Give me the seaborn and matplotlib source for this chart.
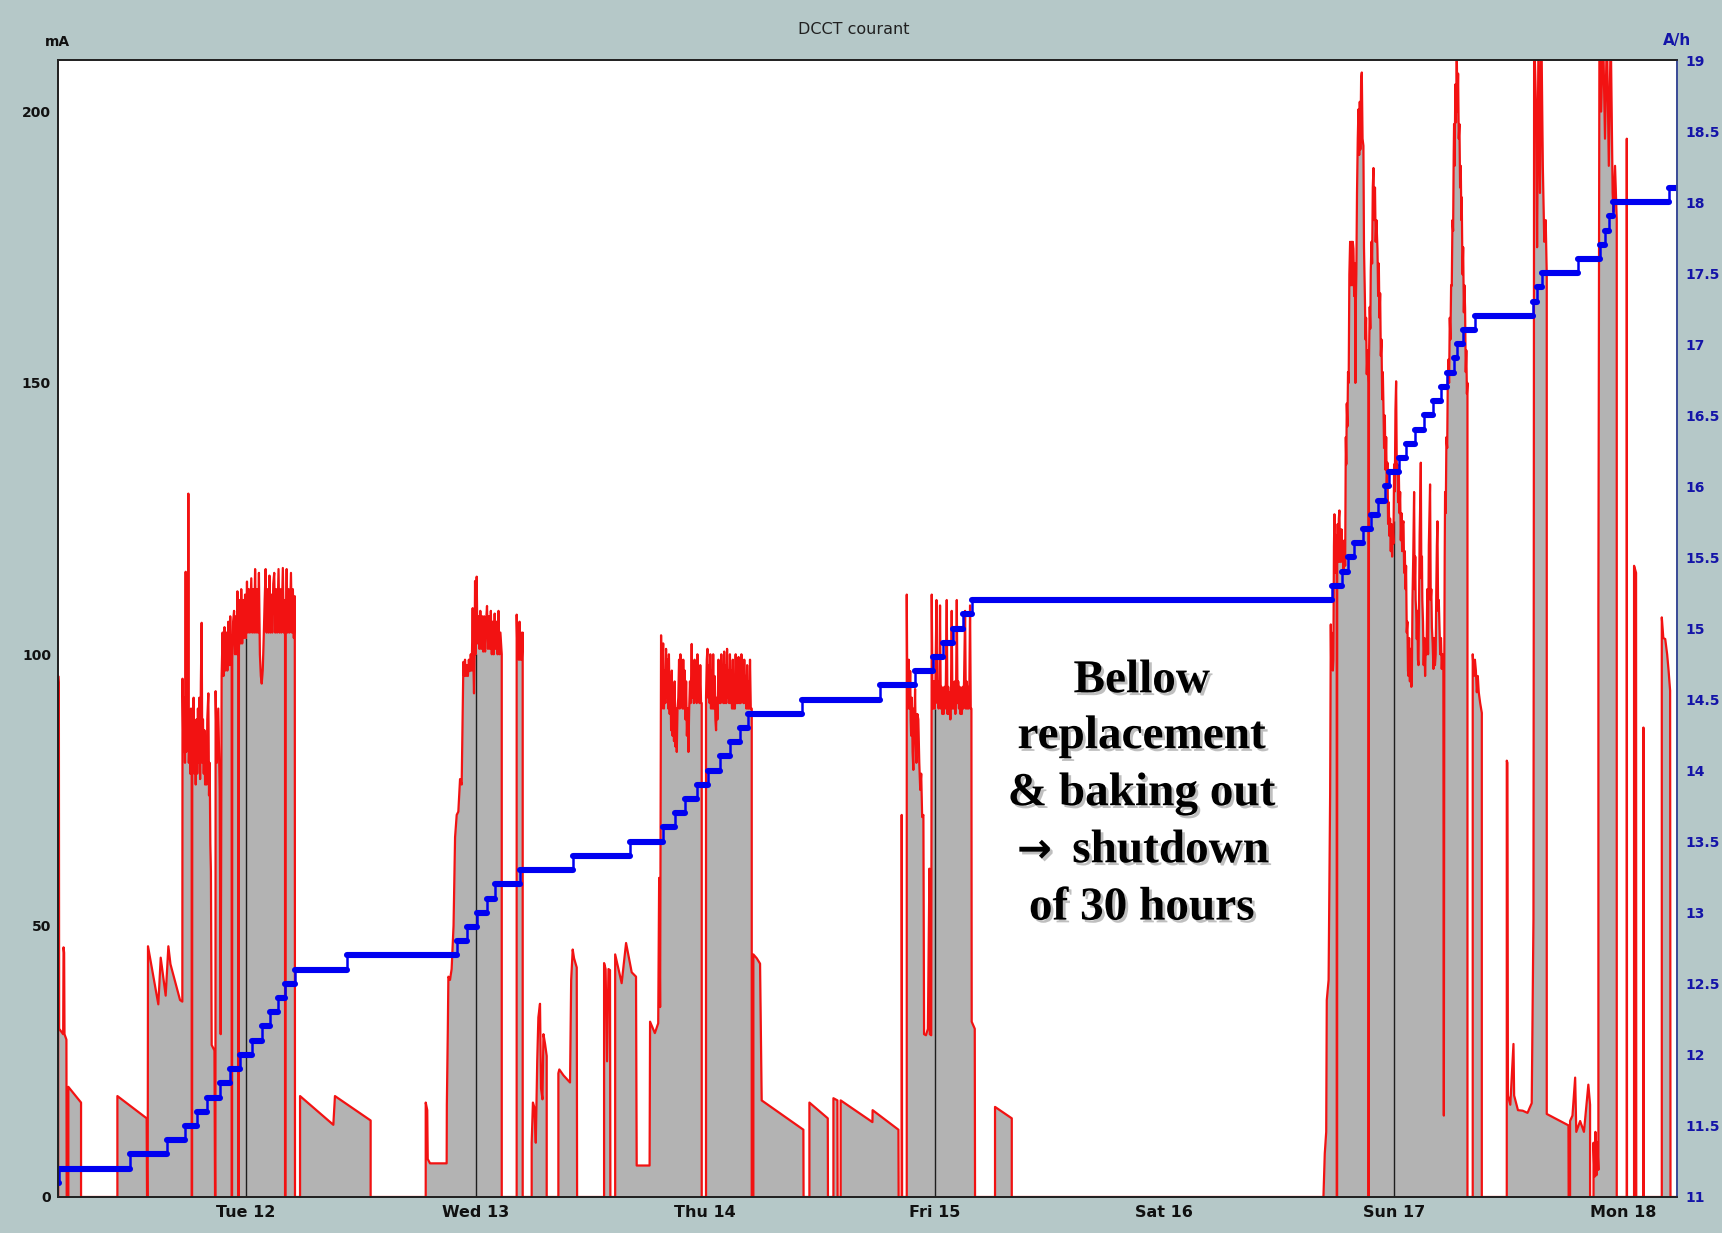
import matplotlib
matplotlib.use("Agg")
import matplotlib.pyplot as plt
import matplotlib.patheffects as pe
import numpy as np
import pandas as pd
import seaborn as sns

# DCCT beam current, (hours since Mon 11 00:00, mA)
run_mon = [(4.36, 0), (4.36, 96), (4.43, 94), (4.46, 31), (4.88, 30), (4.92, 46), (4.98, 45),
           (5.02, 30), (5.22, 29), (5.25, 0), (5.42, 0), (5.42, 20.3), (6.75, 17.4), (6.75, 0)]

run_tue = [(10.55, 0), (10.55, 18.6), (13.61, 14.5), (13.65, 0), (13.72, 0), (13.75, 46.2),
           (14.83, 35.5), (15.08, 44.1), (15.6, 37.1), (15.88, 46.2), (16.1, 42.9), (17.1, 36.3),
           (17.34, 36), (17.36, 95.5), (17.45, 82), (17.55, 92), (17.62, 80), (17.69, 115.2),
           (17.75, 82), (17.85, 95), (17.92, 84), (17.97, 129.6), (18.02, 80), (18.1, 88),
           (18.17, 78), (18.25, 90), (18.32, 78), (18.32, 0), (18.36, 0), (18.38, 84), (18.45, 80),
           (18.52, 92), (18.6, 78), (18.67, 85.6), (18.74, 76), (18.82, 88), (18.9, 78),
           (18.97, 90), (19.05, 80), (19.12, 92), (19.2, 77), (19.28, 95), (19.36, 105.8),
           (19.43, 80), (19.5, 88), (19.58, 78), (19.65, 86), (19.72, 76), (19.8, 84), (19.88, 76),
           (19.95, 88), (20.06, 92.8), (20.13, 74), (20.2, 80), (20.27, 65), (20.33, 60),
           (20.41, 28), (20.7, 27), (20.76, 0), (20.8, 0), (20.82, 93.2), (20.95, 80), (21.1, 90),
           (21.25, 75), (21.35, 30), (21.45, 96), (21.55, 104), (21.65, 96), (21.75, 105),
           (21.85, 97), (21.95, 104), (22.05, 97), (22.15, 106), (22.25, 98), (22.35, 107),
           (22.45, 98), (22.5, 99), (22.5, 0), (22.54, 0), (22.56, 99), (22.65, 106), (22.75, 108),
           (22.85, 100), (22.95, 107), (23.05, 100), (23.1, 111.6), (23.15, 101), (23.2, 101),
           (23.2, 0), (23.24, 0), (23.26, 101), (23.35, 110), (23.45, 102), (23.5, 112),
           (23.6, 102), (23.7, 110), (23.8, 103), (23.9, 111), (24.0, 103), (24.1, 113.4),
           (24.2, 104), (24.3, 112), (24.4, 104), (24.55, 114), (24.65, 104), (24.75, 112),
           (24.85, 104), (24.95, 115.7), (25.05, 104), (25.15, 112), (25.25, 104), (25.35, 115),
           (25.45, 100), (25.55, 96), (25.64, 94.6), (25.75, 97), (25.85, 103), (25.95, 110),
           (26.05, 115.7), (26.15, 104), (26.25, 112), (26.35, 104), (26.45, 114.5), (26.55, 104),
           (26.65, 111), (26.75, 104), (26.85, 113), (26.95, 115), (27.05, 104), (27.15, 112),
           (27.25, 104), (27.4, 115.7), (27.5, 104), (27.6, 112), (27.7, 104), (27.85, 115.9),
           (27.95, 104), (28.05, 110), (28.08, 104), (28.08, 0), (28.12, 0), (28.14, 104),
           (28.25, 115.7), (28.35, 104), (28.45, 112), (28.55, 104), (28.7, 115), (28.8, 104),
           (28.9, 112), (29.0, 103), (29.1, 110.7), (29.12, 0),
           (29.65, 0), (29.65, 18.6), (33.13, 13.3), (33.3, 18.6), (37.03, 14.1), (37.03, 0)]

run_wed = [(42.79, 0), (42.79, 17.4), (42.95, 16), (43.0, 7), (43.24, 6.2), (44.98, 6.2),
           (45.0, 17), (45.1, 30.6), (45.16, 40.6), (45.33, 40), (45.5, 42), (45.7, 50),
           (45.86, 66.3), (46.03, 70.4), (46.2, 71), (46.38, 77), (46.55, 76), (46.73, 98.6),
           (46.8, 96), (46.9, 99), (47.0, 96), (47.1, 98), (47.2, 96), (47.3, 99), (47.4, 96.9),
           (47.5, 100), (47.6, 97), (47.7, 108.5), (47.78, 98), (47.84, 92.8), (47.9, 100),
           (47.95, 113.5), (48.0, 100), (48.06, 108), (48.12, 114.3), (48.2, 102), (48.3, 107),
           (48.4, 101), (48.5, 108), (48.6, 101), (48.7, 107), (48.8, 100.5), (48.9, 107),
           (49.0, 100.5), (49.1, 106), (49.2, 108.9), (49.3, 101), (49.4, 107), (49.5, 101),
           (49.6, 108), (49.7, 100), (49.8, 106), (49.9, 100), (50.0, 107.5), (50.1, 101),
           (50.2, 106), (50.3, 100), (50.4, 108), (50.5, 100), (50.6, 104), (50.74, 100),
           (50.74, 0), (52.3, 0), (52.3, 107.3), (52.38, 100), (52.45, 105), (52.52, 99),
           (52.6, 106), (52.68, 99), (52.75, 104), (52.84, 99), (52.93, 104), (52.93, 0),
           (53.87, 0), (53.87, 10), (54.0, 17.4), (54.15, 16.5), (54.3, 10), (54.45, 25),
           (54.57, 33.1), (54.74, 35.6), (54.85, 20), (55.0, 18), (55.1, 30), (55.27, 28.2),
           (55.44, 26), (55.44, 0), (56.66, 0), (56.66, 22.8), (56.76, 23.5), (57.2, 22.4),
           (57.88, 21.1), (58.0, 40), (58.16, 45.6), (58.3, 44), (58.58, 42.3), (58.62, 0),
           (61.44, 0), (61.44, 43.1), (61.6, 42), (61.75, 25), (61.9, 42), (62.06, 41.8), (62.1, 0),
           (62.6, 0), (62.6, 44.7), (63.28, 39.4), (63.74, 46.8), (64.33, 41.4), (64.78, 40.6),
           (64.85, 5.8), (66.2, 5.8), (66.25, 32.3), (66.75, 30.2), (67.1, 32), (67.2, 58.8),
           (67.3, 35)]

run_thu = [(67.4, 103.5), (67.48, 90), (67.55, 98), (67.62, 102), (67.7, 90), (67.78, 97),
           (67.85, 91), (67.92, 101), (68.0, 92), (68.08, 99), (68.15, 90), (68.22, 100),
           (68.3, 89), (68.38, 96), (68.45, 86), (68.52, 97), (68.6, 85), (68.68, 93), (68.75, 84),
           (68.82, 95), (68.9, 83), (68.97, 90), (69.04, 82), (69.12, 90), (69.2, 92), (69.28, 99),
           (69.35, 90), (69.42, 100), (69.5, 91), (69.58, 98), (69.65, 90), (69.72, 99),
           (69.8, 90), (69.88, 97), (69.95, 88), (70.02, 95), (70.1, 85), (70.18, 90),
           (70.26, 82), (70.34, 90), (70.42, 95), (70.5, 91), (70.6, 101.9), (70.68, 92),
           (70.75, 98), (70.83, 91), (70.9, 99), (70.98, 92), (71.05, 97), (71.12, 91),
           (71.2, 100), (71.28, 92), (71.35, 97), (71.42, 91), (71.5, 98), (71.58, 91),
           (71.65, 91), (71.65, 0), (72.1, 0), (72.1, 92), (72.18, 99), (72.25, 101), (72.32, 92),
           (72.4, 98), (72.48, 91), (72.55, 100), (72.62, 90), (72.7, 97), (72.78, 90),
           (72.85, 100), (72.92, 90), (73.0, 96), (73.08, 88), (73.15, 86), (73.22, 92),
           (73.3, 88), (73.4, 99), (73.48, 91), (73.55, 98), (73.62, 91), (73.7, 100),
           (73.78, 92), (73.85, 97), (73.92, 91), (74.0, 100.5), (74.08, 91), (74.15, 98),
           (74.22, 91), (74.3, 101), (74.38, 92), (74.45, 97), (74.52, 91), (74.6, 100),
           (74.68, 91), (74.75, 97), (74.82, 90), (74.9, 99), (74.98, 90), (75.05, 96),
           (75.12, 90), (75.2, 100), (75.28, 91), (75.35, 97), (75.42, 91), (75.5, 99.5),
           (75.58, 91), (75.65, 96), (75.72, 91), (75.8, 100), (75.88, 92), (75.95, 97),
           (76.02, 91), (76.1, 99), (76.18, 91), (76.25, 96), (76.32, 90), (76.4, 98),
           (76.48, 90), (76.55, 95), (76.62, 90), (76.7, 99), (76.78, 90), (76.88, 90),
           (76.88, 0),
           (77.05, 0), (77.05, 44.7), (77.4, 44), (77.75, 43), (77.92, 17.8), (82.28, 12.4),
           (82.3, 0), (82.91, 0), (82.91, 17.4), (84.83, 14.5), (84.85, 0), (85.42, 0),
           (85.42, 18.2), (85.84, 17.8), (85.86, 0), (86.18, 0), (86.18, 17.8), (89.5, 13.8),
           (89.52, 16), (92.22, 12.4), (92.24, 0), (92.56, 0), (92.56, 70.4), (92.6, 0)]

run_fri = [(93.09, 0), (93.09, 111), (93.15, 92), (93.2, 90), (93.25, 97), (93.3, 99),
           (93.38, 90), (93.45, 96.9), (93.5, 88), (93.55, 85), (93.62, 92), (93.7, 82),
           (93.78, 78.7), (93.84, 90), (93.9, 88), (93.96, 93.6), (94.03, 84), (94.1, 80),
           (94.2, 89), (94.3, 88), (94.4, 80), (94.5, 75), (94.6, 78), (94.7, 70), (94.83, 70.4),
           (94.9, 30), (95.1, 29.8), (95.3, 31), (95.46, 60.5), (95.5, 30), (95.65, 29.8),
           (95.7, 111), (95.78, 93), (95.85, 90), (95.92, 95), (96.0, 90), (96.08, 94),
           (96.2, 110), (96.28, 91), (96.35, 95), (96.42, 90), (96.5, 94), (96.57, 109),
           (96.65, 90), (96.72, 94), (96.8, 89), (96.88, 93), (96.95, 89), (97.03, 94),
           (97.1, 90), (97.18, 95), (97.27, 110), (97.35, 89), (97.42, 94), (97.5, 89),
           (97.58, 93), (97.65, 88), (97.72, 94), (97.79, 108), (97.87, 90), (97.95, 94),
           (98.02, 90), (98.1, 95), (98.17, 89), (98.25, 94), (98.32, 110), (98.4, 91),
           (98.47, 95), (98.55, 90), (98.62, 94), (98.7, 89), (98.78, 93), (98.85, 89),
           (98.93, 94), (99.0, 90), (99.08, 95), (99.19, 108), (99.27, 90), (99.35, 95),
           (99.42, 90), (99.5, 94), (99.57, 90), (99.64, 95), (99.71, 109), (99.78, 90),
           (99.85, 90), (99.88, 32.3), (100.2, 31), (100.23, 0),
           (102.32, 0), (102.32, 16.6), (104.07, 14.5), (104.07, 0)]

run_sun = [(136.66, 0), (136.8, 8), (136.95, 12), (137.01, 36.3), (137.2, 40), (137.36, 74.3),
           (137.43, 105.5), (137.47, 98), (137.5, 104), (137.55, 97.3), (137.6, 103), (137.65, 97),
           (137.7, 99), (137.76, 120), (137.81, 125.8), (137.86, 115), (137.91, 122), (137.95, 116),
           (138.0, 121), (138.05, 118), (138.05, 0), (138.09, 0), (138.1, 118), (138.15, 124),
           (138.2, 117), (138.27, 125), (138.33, 126.5), (138.4, 117), (138.45, 123), (138.5, 118),
           (138.56, 123), (138.62, 117), (138.7, 120), (138.77, 115), (138.85, 121),
           (138.93, 116.3), (139.0, 140), (139.05, 135), (139.1, 146.2), (139.17, 142),
           (139.23, 152), (139.3, 150), (139.37, 170), (139.45, 176), (139.52, 168), (139.6, 176),
           (139.66, 168), (139.73, 176), (139.8, 174.7), (139.87, 166), (139.95, 172), (140.0, 150),
           (140.05, 165), (140.1, 170), (140.17, 185), (140.25, 195), (140.32, 200.4),
           (140.4, 192), (140.46, 201.8), (140.52, 193), (140.6, 206), (140.67, 207.2),
           (140.75, 195), (140.84, 193.7), (140.9, 175), (141.0, 165.2), (141.06, 158),
           (141.12, 162), (141.19, 151.6), (141.27, 156), (141.37, 150), (141.37, 0), (141.4, 0),
           (141.42, 154), (141.5, 164), (141.56, 160), (141.61, 170.6), (141.68, 176),
           (141.75, 172), (141.82, 186), (141.89, 189.6), (141.96, 180), (142.05, 186),
           (142.12, 176), (142.2, 180), (142.31, 174.7), (142.38, 166), (142.45, 172),
           (142.52, 162), (142.59, 166.5), (142.66, 155), (142.73, 158), (142.8, 147),
           (142.87, 152), (142.93, 146.2), (143.0, 138), (143.08, 144), (143.15, 134),
           (143.22, 140), (143.28, 131), (143.35, 135.3), (143.42, 124), (143.49, 128),
           (143.56, 121.8), (143.63, 125), (143.7, 119), (143.77, 124), (143.84, 118),
           (143.91, 123), (143.98, 120.4), (144.05, 135), (144.12, 130), (144.19, 145),
           (144.26, 150.3), (144.33, 134), (144.4, 135), (144.47, 128), (144.54, 134),
           (144.61, 126), (144.68, 129.9), (144.75, 121), (144.82, 126), (144.89, 119),
           (144.96, 124), (145.03, 124.5), (145.1, 115), (145.17, 119), (145.24, 112),
           (145.3, 116.3), (145.37, 104), (145.44, 106), (145.5, 97), (145.55, 96), (145.62, 103),
           (145.7, 95), (145.78, 101), (145.85, 94), (145.9, 94.6), (145.97, 110), (146.05, 118),
           (146.14, 129.9), (146.2, 112), (146.26, 118), (146.3, 110), (146.36, 108),
           (146.42, 102.8), (146.48, 108), (146.54, 99), (146.6, 98), (146.66, 110), (146.72, 122),
           (146.78, 128), (146.84, 135.3), (146.9, 114), (146.96, 118), (147.0, 110),
           (147.07, 106), (147.14, 98), (147.22, 103), (147.29, 96), (147.36, 102), (147.44, 100),
           (147.52, 112), (147.6, 100), (147.68, 120), (147.75, 126), (147.81, 131.3),
           (147.88, 110), (147.94, 112), (148.0, 105), (148.08, 102), (148.16, 97.3),
           (148.24, 103), (148.32, 98), (148.4, 100), (148.46, 112), (148.52, 120),
           (148.58, 124.5), (148.65, 108), (148.72, 110), (148.8, 105), (148.87, 100),
           (148.95, 103), (149.03, 97.3), (149.1, 100), (149.2, 97), (149.25, 15), (149.3, 100),
           (149.34, 118), (149.38, 129.9), (149.45, 126), (149.52, 140), (149.6, 138),
           (149.66, 150), (149.73, 154.3), (149.8, 150), (149.87, 162), (149.94, 158),
           (150.01, 168), (150.08, 167.9), (150.15, 180), (150.22, 178), (150.28, 192),
           (150.32, 197.7), (150.38, 190), (150.45, 205), (150.52, 198), (150.6, 211),
           (150.67, 200), (150.74, 207), (150.81, 195), (150.88, 197.7), (150.95, 186),
           (151.02, 190), (151.08, 180), (151.12, 184.2), (151.2, 170), (151.27, 175),
           (151.34, 163), (151.4, 168), (151.47, 163.8), (151.54, 152), (151.6, 156),
           (151.66, 148), (151.72, 150), (151.72, 0), (152.27, 0), (152.27, 100), (152.4, 96),
           (152.5, 99), (152.6, 97), (152.7, 93), (152.8, 96), (152.9, 93), (153.05, 91),
           (153.22, 89.2), (153.22, 0)]

run_mon2 = [(155.83, 0), (155.83, 80.4), (155.9, 80), (155.95, 18.7), (156.2, 17), (156.53, 28.2),
            (156.6, 18.7), (157.0, 16), (157.5, 15.9), (158.0, 15.5), (158.44, 17.3),
            (158.62, 51.2), (158.65, 108.2), (158.69, 215), (158.9, 200), (159.0, 175),
            (159.15, 215), (159.3, 185), (159.45, 215), (159.6, 190), (159.75, 176), (159.9, 180),
            (160.01, 170), (160.01, 15.3), (162.28, 13.2), (162.3, 0), (162.45, 0), (162.45, 14),
            (162.7, 15), (162.98, 22), (163.1, 12), (163.5, 14), (163.9, 12), (164.36, 20.7),
            (164.54, 17), (164.54, 0), (164.9, 0), (164.9, 10), (165.0, 3.7), (165.1, 12),
            (165.2, 4), (165.3, 10), (165.41, 5), (165.41, 108.2), (165.52, 215), (165.7, 200),
            (165.9, 215), (166.1, 195), (166.3, 215), (166.5, 190), (166.7, 215), (166.9, 185),
            (167.0, 181.5), (167.15, 190), (167.33, 180), (167.33, 0), (168.38, 0), (168.38, 195),
            (168.4, 0), (169.14, 0), (169.14, 116.3), (169.35, 115), (169.37, 0), (170.12, 0),
            (170.12, 86.5), (170.15, 0), (172.04, 0), (172.04, 106.8), (172.2, 103),
            (172.4, 102.8), (172.6, 100), (172.75, 97), (172.91, 93.3), (172.95, 0), (173.63, 0)]

# integrated charge counter (A/h), value held from each time on
charge_time_h = [4.36, 4.48, 11.87, 15.70, 17.62, 18.84, 19.89, 21.28, 22.33, 23.37, 24.59,
                 25.64, 26.51, 27.38, 28.08, 29.12, 34.53, 46.03, 47.08, 48.12, 49.17, 50.04,
                 52.65, 58.23, 64.16, 67.64, 68.86, 69.91, 71.13, 72.35, 73.57, 74.61, 75.66,
                 76.53, 82.11, 90.30, 93.96, 95.88, 96.92, 97.97, 98.94, 99.88, 137.53, 138.58,
                 139.27, 139.90, 140.77, 141.61, 142.41, 143.11, 143.56, 144.61, 145.30, 146.25,
                 147.22, 148.09, 148.93, 149.63, 150.32, 150.60, 151.30, 152.52, 158.62, 159.04,
                 159.49, 163.32, 165.59, 166.11, 166.56, 166.98, 172.80, 173.63]
charge_ah = [11.1, 11.2, 11.3, 11.4, 11.5, 11.6, 11.7, 11.8, 11.9, 12.0, 12.1, 12.2, 12.3, 12.4,
             12.5, 12.6, 12.7, 12.8, 12.9, 13.0, 13.1, 13.2, 13.3, 13.4, 13.5, 13.6, 13.7, 13.8,
             13.9, 14.0, 14.1, 14.2, 14.3, 14.4, 14.5, 14.6, 14.7, 14.8, 14.9, 15.0, 15.1, 15.2,
             15.3, 15.4, 15.5, 15.6, 15.7, 15.8, 15.9, 16.0, 16.1, 16.2, 16.3, 16.4, 16.5, 16.6,
             16.7, 16.8, 16.9, 17.0, 17.1, 17.2, 17.3, 17.4, 17.5, 17.6, 17.7, 17.8, 17.9, 18.0,
             18.1, 18.1]

day_ticks_h = [24, 48, 72, 96, 120, 144, 168]
day_labels = ["Tue 12", "Wed 13", "Thu 14", "Fri 15", "Sat 16", "Sun 17", "Mon 18"]
ma_ticks = [0, 50, 100, 150, 200]
ah_ticks = [11, 11.5, 12, 12.5, 13, 13.5, 14, 14.5, 15, 15.5, 16, 16.5, 17, 17.5, 18, 18.5, 19]
ah_labels = ["11", "11.5", "12", "12.5", "13", "13.5", "14", "14.5", "15", "15.5", "16",
             "16.5", "17", "17.5", "18", "18.5", "19"]

note_lines = ["Bellow", "replacement", "& baking out", "shutdown", "of 30 hours"]

sns.set_theme(style="white")
plt.rcParams["font.family"] = ["DejaVu Sans"]

BG = "#b5c8c8"
BLUE = "#0000f0"
W, H = 1722, 1233
fig = plt.figure(figsize=(W / 100, H / 100), dpi=100, facecolor=BG)
ax = fig.add_axes([58 / W, 36 / H, 1619 / W, 1137 / H])
ax.set_facecolor("white")

pts = run_mon + run_tue + run_wed + run_thu + run_fri + run_sun + run_mon2
beam = pd.DataFrame(pts, columns=["t", "mA"])

ax.fill_between(beam["t"], 0, beam["mA"], color="#b3b3b3", lw=0, zorder=1)
for d in day_ticks_h:
    level = np.interp(d, beam["t"], beam["mA"])
    if level > 0:
        ax.vlines(d, 0, level, color="#1e1e1e", lw=1.0, zorder=1.5)
sns.lineplot(data=beam, x="t", y="mA", sort=False, estimator=None, color="#f21212",
             lw=1.6, ax=ax, zorder=2)

ax.set_xlim(4.34, 173.63)
ax.set_ylim(0, 209.5)
ax.set_xlabel("")
ax.set_ylabel("")
ax.set_xticks(day_ticks_h, day_labels, fontsize=11.5, fontweight="bold")
ax.set_yticks(ma_ticks, [str(v) for v in ma_ticks], fontsize=10, fontweight="bold")
ax.tick_params(axis="x", length=0, pad=6, colors="#111111")
ax.tick_params(axis="y", length=0, pad=5, colors="#111111")

ax2 = ax.twinx()
charge = pd.DataFrame({"t": charge_time_h, "Ah": charge_ah})
sns.lineplot(data=charge, x="t", y="Ah", sort=False, estimator=None, drawstyle="steps-post",
             color=BLUE, lw=1.8, ax=ax2)
ax2.hlines(charge["Ah"].iloc[:-1], charge["t"].iloc[:-1], charge["t"].iloc[1:].values,
           color=BLUE, lw=4.4, capstyle="round")
ax2.set_ylim(11, 19)
ax2.set_ylabel("")
ax2.set_yticks(ah_ticks, ah_labels, fontsize=10, fontweight="bold", color="#1414a8")
ax2.tick_params(axis="y", length=0, pad=6)

for a in (ax, ax2):
    for side in ("left", "top", "bottom"):
        a.spines[side].set_color("#222222")
        a.spines[side].set_linewidth(1.3)
    a.spines["right"].set_color("#3c4c98")
    a.spines["right"].set_linewidth(1.3)

# annotation, one line at a time
shadow = [pe.withSimplePatchShadow(offset=(2, -2), shadow_rgbFace="#8c8c8c", alpha=0.55)]
serif = ["Liberation Serif", "DejaVu Serif"]
baselines = [0.4439, 0.3948, 0.3446, 0.2944, 0.2440]
for k, (line, yb) in enumerate(zip(note_lines, baselines)):
    xc = 0.6872 if k == 3 else 0.6693
    ax.text(xc, yb, line, transform=ax.transAxes, ha="center", va="baseline",
            fontsize=34, fontweight="bold", family=serif, color="black", zorder=5,
            path_effects=shadow)
ax.text(0.6031, baselines[3], "\u2192", transform=ax.transAxes, ha="center", va="baseline",
        fontsize=30, fontweight="bold", family=["DejaVu Sans"], color="black", zorder=5,
        path_effects=shadow)

fig.text(854 / W, 1 - 30 / H, "DCCT courant", ha="center", va="center", fontsize=11.5,
         color="#202020")
fig.text(57 / W, 1 - 42 / H, "mA", ha="center", va="center", fontsize=10,
         fontweight="bold", color="#111111")
fig.text(1677 / W, 1 - 41 / H, "A/h", ha="center", va="center", fontsize=11,
         fontweight="bold", color="#1414a8")

fig.savefig("out.png", dpi=100, facecolor=BG)
